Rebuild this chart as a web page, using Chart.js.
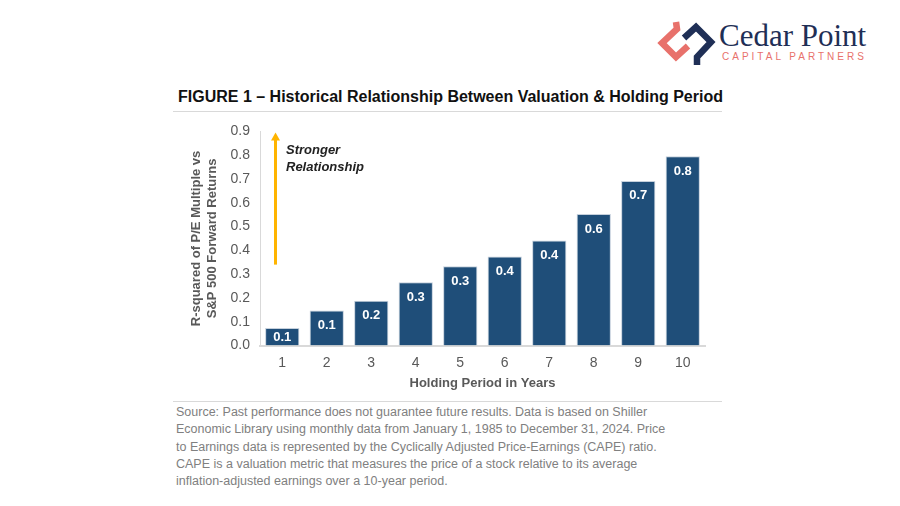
<!DOCTYPE html>
<html>
<head>
<meta charset="utf-8">
<script src="https://cdn.jsdelivr.net/npm/chart.js@4"></script>
<style>
  html, body { margin: 0; padding: 0; background: #fff; }
  #page { position: relative; width: 900px; height: 506px; overflow: hidden; font-family: "Liberation Sans", Arial, Helvetica, sans-serif; }
  #logo-icon { position: absolute; left: 655px; top: 18px; }
  #logo-name { position: absolute; left: 719px; top: 18px; font-family: "Liberation Serif", "Times New Roman", serif; font-size: 31px; color: #1f2f56; white-space: nowrap; }
  #logo-sub { position: absolute; left: 722px; top: 51px; font-size: 10px; letter-spacing: 3px; color: #e8716b; white-space: nowrap; }
  #title { position: absolute; left: 178px; top: 88px; font-size: 16px; font-weight: bold; color: #111; white-space: nowrap; }
  .rule { position: absolute; left: 173px; width: 549px; height: 1px; background: #d9d9d9; }
  #chart-box { position: absolute; left: 180px; top: 113px; width: 540px; height: 282px; }
  #source { position: absolute; left: 176px; top: 404px; font-size: 12.5px; line-height: 17.3px; color: #808080; white-space: nowrap; }
</style>
</head>
<body>
<div id="page">
  <svg id="logo-icon" width="62" height="52" viewBox="655 18 62 52">
    <polyline points="676,22 677,29 662,43 676,57 688,46" fill="none" stroke="#e8716b" stroke-width="6.5" stroke-linejoin="miter"/>
    <polyline points="684,38 696,27 711,42 697,57 697,65" fill="none" stroke="#1f2f56" stroke-width="6.5" stroke-linejoin="miter"/>
  </svg>
  <div id="logo-name">Cedar Point</div>
  <div id="logo-sub">CAPITAL PARTNERS</div>
  <div id="title">FIGURE 1 – Historical Relationship Between Valuation &amp; Holding Period</div>
  <div class="rule" style="top:111px"></div>
  <div id="chart-box"><canvas id="chart"></canvas></div>
  <div class="rule" style="top:401px"></div>
  <div id="source">Source: Past performance does not guarantee future results. Data is based on Shiller<br>Economic Library using monthly data from January 1, 1985 to December 31, 2024. Price<br>to Earnings data is represented by the Cyclically Adjusted Price-Earnings (CAPE) ratio.<br>CAPE is a valuation metric that measures the price of a stock relative to its average<br>inflation-adjusted earnings over a 10-year period.</div>
</div>
<script>
// --- Data ---
const years = ["1", "2", "3", "4", "5", "6", "7", "8", "9", "10"];
const rSquared = [0.074, 0.147, 0.188, 0.266, 0.333, 0.374, 0.441, 0.553, 0.692, 0.796];
const yTicks = [0.0, 0.1, 0.2, 0.3, 0.4, 0.5, 0.6, 0.7, 0.8, 0.9];

const FONT = '"Liberation Sans", Arial, Helvetica, sans-serif';
const GRAY = "#595959";

// bar value labels, white, just inside the top
const barLabels = {
  id: "barLabels",
  afterDatasetsDraw(chart) {
    const ctx = chart.ctx;
    const meta = chart.getDatasetMeta(0);
    const base = chart.scales.y.getPixelForValue(0);
    ctx.save();
    ctx.font = "bold 13px " + FONT;
    ctx.fillStyle = "#fff";
    ctx.textAlign = "center";
    ctx.textBaseline = "middle";
    meta.data.forEach((bar, i) => {
      const y = Math.min(bar.y + 15, base - 8);
      ctx.fillText(rSquared[i].toFixed(1), bar.x, y);
    });
    ctx.restore();
  }
};

// "Stronger Relationship" arrow
const arrowNote = {
  id: "arrowNote",
  afterDraw(chart) {
    const ctx = chart.ctx;
    const yS = chart.scales.y;
    const x = chart.chartArea.left + 15.5;
    const yBot = yS.getPixelForValue(0.34);
    const yTop = yS.getPixelForValue(0.895);
    ctx.save();
    ctx.strokeStyle = "#ffb400";
    ctx.fillStyle = "#ffb400";
    ctx.lineWidth = 3;
    ctx.beginPath();
    ctx.moveTo(x, yBot);
    ctx.lineTo(x, yTop + 7);
    ctx.stroke();
    ctx.beginPath();
    ctx.moveTo(x, yTop);
    ctx.lineTo(x - 4.5, yTop + 8);
    ctx.lineTo(x + 4.5, yTop + 8);
    ctx.closePath();
    ctx.fill();
    ctx.font = "italic bold 13px " + FONT;
    ctx.fillStyle = "#222";
    ctx.textAlign = "left";
    ctx.textBaseline = "middle";
    ctx.fillText("Stronger", x + 10.5, yS.getPixelForValue(0.818));
    ctx.fillText("Relationship", x + 10.5, yS.getPixelForValue(0.748));
    ctx.restore();
  }
};

new Chart(document.getElementById("chart"), {
  type: "bar",
  data: {
    labels: years,
    datasets: [{
      data: rSquared,
      backgroundColor: "#1f4e79",
      borderColor: "#c5d0dc",
      borderWidth: 1,
      categoryPercentage: 1,
      barPercentage: 0.77
    }]
  },
  options: {
    responsive: true,
    maintainAspectRatio: false,
    animation: false,
    devicePixelRatio: 1,
    layout: { padding: { top: 0, right: 15, left: 0, bottom: 0 } },
    plugins: { legend: { display: false }, tooltip: { enabled: false } },
    scales: {
      x: {
        grid: { display: false, drawTicks: false },
        border: { color: "#d9d9d9", width: 2 },
        ticks: { color: GRAY, font: { family: FONT, size: 14 }, padding: 9 },
        title: { display: true, text: "Holding Period in Years", color: GRAY, font: { family: FONT, size: 13, weight: "bold" }, padding: { top: 2 } },
        afterFit(scale) { scale.height = 49.5; }
      },
      y: {
        min: 0,
        max: 0.9,
        grid: { display: false, drawTicks: false },
        border: { color: "#d9d9d9", width: 1 },
        afterBuildTicks(scale) { scale.ticks = yTicks.map(v => ({ value: v })); },
        ticks: {
          color: GRAY,
          font: { family: FONT, size: 14 },
          padding: 10,
          callback: v => Number(v).toFixed(1)
        },
        title: {
          display: true,
          text: ["R-squared of P/E Multiple vs", "S&P 500 Forward Returns"],
          color: GRAY,
          font: { family: FONT, size: 13, weight: "bold", lineHeight: 1.18 },
          padding: { top: 9, bottom: 0 }
        },
        afterFit(scale) { scale.width = 80; }
      }
    }
  },
  plugins: [barLabels, arrowNote]
});
</script>
</body>
</html>
